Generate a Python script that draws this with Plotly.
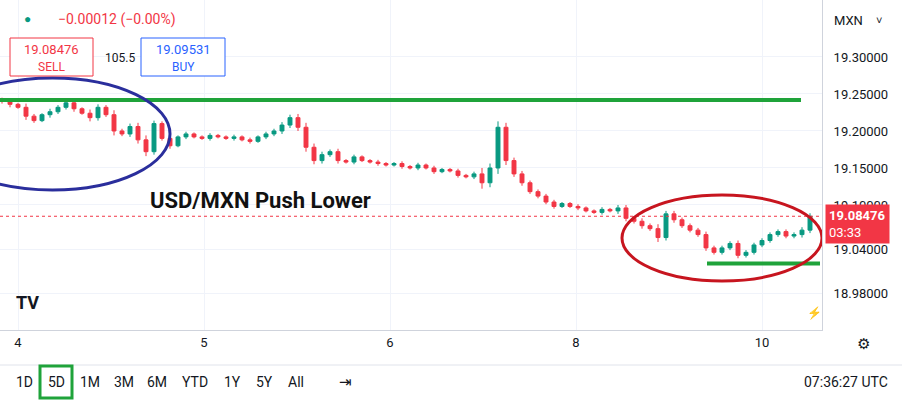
import plotly.graph_objects as go

closes = [19.240,19.236,19.232,19.220,19.214,19.222,19.226,19.232,19.238,19.230,19.224,19.218,19.232,19.222,19.200,19.196,19.206,19.188,19.172,19.210,19.190,19.180,19.192,19.196,19.192,19.190,19.194,19.192,19.190,19.192,19.188,19.186,19.192,19.196,19.200,19.208,19.218,19.205,19.178,19.160,19.168,19.172,19.160,19.158,19.165,19.160,19.158,19.156,19.154,19.156,19.152,19.150,19.154,19.150,19.145,19.148,19.146,19.140,19.138,19.142,19.130,19.150,19.205,19.160,19.142,19.130,19.118,19.112,19.104,19.098,19.102,19.098,19.096,19.092,19.090,19.094,19.092,19.096,19.082,19.078,19.072,19.068,19.056,19.088,19.080,19.072,19.066,19.060,19.042,19.036,19.042,19.048,19.032,19.036,19.046,19.052,19.060,19.064,19.058,19.060,19.066,19.0848]
wicks = [0.003,0.004,0.002,0.005,0.003,0.002,0.004,0.003,0.003,0.004,0.002,0.005,0.004,0.003,0.006,0.003,0.004,0.005,0.006,0.004,0.003,0.004,0.002,0.003,0.002,0.002,0.003,0.002,0.002,0.003,0.002,0.003,0.002,0.003,0.003,0.004,0.004,0.005,0.006,0.005,0.004,0.003,0.004,0.002,0.003,0.002,0.002,0.003,0.002,0.002,0.003,0.002,0.003,0.002,0.003,0.002,0.002,0.003,0.002,0.003,0.008,0.006,0.008,0.006,0.004,0.004,0.003,0.003,0.003,0.003,0.002,0.002,0.003,0.002,0.002,0.003,0.002,0.004,0.004,0.003,0.004,0.003,0.006,0.004,0.004,0.003,0.003,0.003,0.004,0.003,0.003,0.003,0.004,0.003,0.003,0.003,0.003,0.003,0.003,0.003,0.004,0.004]
open0 = 19.242
day_ticks = [0, 1, 2, 3, 4]
day_labels = ["4", "5", "6", "8", "10"]
price_ticks = [19.30, 19.25, 19.20, 19.15, 19.10, 19.04, 18.98]
price_labels = ["19.30000", "19.25000", "19.20000", "19.15000", "19.10000", "19.04000", "18.98000"]
last_price = 19.08476
resistance = 19.242
support = 19.021

xs = [(2 + 8 * i - 18) / 186 for i in range(len(closes))]
opens = [open0] + closes[:-1]
highs = [max(o, c) + w for o, c, w in zip(opens, closes, wicks)]
lows = [min(o, c) - w for o, c, w in zip(opens, closes, wicks)]

def px(p):  # pixel x -> day units
    return (p - 18) / 186

def py(p):  # pixel y -> price
    return 19.377 - p / 740

fig = go.Figure(go.Candlestick(
    x=xs, open=opens, high=highs, low=lows, close=closes,
    increasing=dict(line=dict(color="#089981", width=1), fillcolor="#089981"),
    decreasing=dict(line=dict(color="#f23645", width=1), fillcolor="#f23645"),
    whiskerwidth=0, showlegend=False, hoverinfo="skip"))

fig.update_layout(
    width=902, height=403, margin=dict(l=0, r=80, t=0, b=73, autoexpand=False),
    paper_bgcolor="white", plot_bgcolor="white",
    font=dict(family="Roboto, Liberation Sans, sans-serif", color="#131722"),
    xaxis=dict(range=[px(0), px(822)], tickvals=day_ticks, ticktext=day_labels,
               showgrid=True, gridcolor="#f0f3fa", rangeslider=dict(visible=False),
               zeroline=False, tickfont=dict(size=13), ticks="", showline=True, linecolor="#cfd3dc"),
    yaxis=dict(range=[py(330), py(0)], side="right", tickvals=price_ticks, ticktext=price_labels,
               showgrid=True, gridcolor="#f0f3fa", zeroline=False, tickfont=dict(size=13),
               showline=True, linecolor="#cfd3dc", ticks="", ticklabelstandoff=8),
)

shapes = [
    dict(type="line", xref="x", yref="y", x0=px(0), x1=px(801), y0=resistance, y1=resistance,
         line=dict(color="#1fa33a", width=4)),
    dict(type="line", xref="x", yref="y", x0=px(707), x1=px(820), y0=support, y1=support,
         line=dict(color="#1fa33a", width=4)),
    dict(type="line", xref="x", yref="y", x0=px(0), x1=px(822), y0=last_price, y1=last_price,
         line=dict(color="#f23645", width=1, dash="dot")),
    dict(type="circle", xref="x", yref="y", x0=px(-65), x1=px(170), y0=py(190), y1=py(78),
         line=dict(color="#2a2e9c", width=3)),
    dict(type="circle", xref="x", yref="y", x0=px(622), x1=px(822), y0=py(281), y1=py(195),
         line=dict(color="#c7151f", width=3)),
    dict(type="line", xref="paper", yref="paper", x0=0, x1=902/822, y0=-35/330, y1=-35/330,
         line=dict(color="#e0e3eb", width=1)),
    dict(type="rect", xref="paper", yref="paper", x0=40/822, x1=72/822, y0=(330-398)/330, y1=(330-366)/330,
         line=dict(color="#1fa33a", width=3)),
    dict(type="rect", xref="paper", yref="paper", x0=10/822, x1=93/822, y0=1-76/330, y1=1-38/330,
         line=dict(color="#f23645", width=1), fillcolor="white"),
    dict(type="rect", xref="paper", yref="paper", x0=141/822, x1=225/822, y0=1-76/330, y1=1-38/330,
         line=dict(color="#2962ff", width=1), fillcolor="white"),
]
fig.update_layout(shapes=shapes)

def ann(x, y, text, size=13, color="#131722", bold=False, xanchor="left", **kw):
    t = f"<b>{text}</b>" if bold else text
    return dict(xref="paper", yref="paper", x=x/822, y=1 - y/330, text=t, showarrow=False,
                xanchor=xanchor, yanchor="middle", font=dict(size=size, color=color), **kw)

anns = [
    ann(148, 200, "USD/MXN Push Lower", size=22, color="#111111", bold=True),
    ann(22, 19, "●", size=12, color="#089981"),
    ann(56, 19, "−0.00012 (−0.00%)", size=14, color="#f23645"),
    ann(51, 50, "19.08476", size=13, color="#f23645", xanchor="center"),
    ann(51, 67, "SELL", size=12, color="#f23645", xanchor="center"),
    ann(103, 58, "105.5", size=12),
    ann(183, 50, "19.09531", size=13, color="#2962ff", xanchor="center"),
    ann(183, 67, "BUY", size=12, color="#2962ff", xanchor="center"),
    ann(825, 224, "<b>19.08476</b><br>03:33", size=13, color="white", bgcolor="#f23645",
        borderpad=3, align="left"),
    ann(832, 21, "MXN", size=13),
    ann(874, 21, "˅", size=11),
    ann(14, 302, "<b>TV</b>", size=18, color="#131722"),
    ann(863, 344, "⚙", size=15, color="#131722", xanchor="center"),
    ann(814, 313, "⚡", size=12, color="#9c27b0", xanchor="center"),
    ann(345, 382, "⇥", size=15, xanchor="center"),
    ann(890, 382, "07:36:27 UTC", size=14, xanchor="right"),
]
for lbl, xp in zip(["1D", "5D", "1M", "3M", "6M", "YTD", "1Y", "5Y", "All"],
                   [24, 56, 90, 124, 157, 195, 232, 264, 296]):
    anns.append(ann(xp, 382, lbl, size=14, xanchor="center"))
fig.update_layout(annotations=anns)

fig.write_html("out.html", config={"displayModeBar": False},
               post_script="document.body.style.margin='0';")
